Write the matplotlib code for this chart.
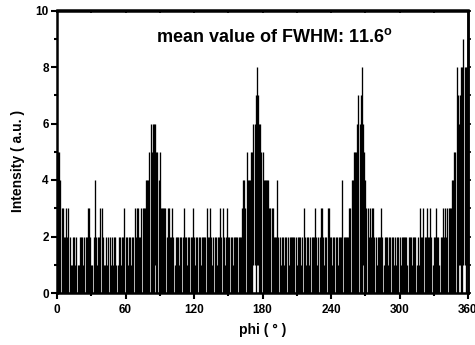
import matplotlib
matplotlib.use("Agg")
import matplotlib.pyplot as plt
import numpy as np

# Phi scan, 1 degree per sample: highest count recorded in each degree bin
counts_000_059 = [5, 5, 5, 4, 3, 3, 2, 2, 3, 2,
                  3, 2, 1, 1, 2, 2, 1, 2, 1, 1,
                  2, 2, 2, 1, 2, 2, 2, 3, 3, 2,
                  1, 1, 2, 4, 2, 1, 2, 2, 3, 3,
                  2, 1, 1, 2, 1, 2, 2, 1, 2, 1,
                  2, 2, 1, 1, 2, 2, 1, 2, 2, 3]
counts_060_119 = [2, 2, 1, 2, 2, 1, 2, 2, 3, 2,
                  3, 3, 2, 2, 3, 3, 3, 3, 4, 4,
                  4, 5, 6, 5, 6, 6, 6, 5, 5, 4,
                  5, 3, 3, 3, 3, 3, 2, 3, 3, 2,
                  2, 3, 2, 1, 2, 2, 2, 1, 2, 2,
                  2, 3, 2, 2, 1, 2, 2, 2, 2, 3]
counts_120_179 = [2, 1, 2, 2, 2, 2, 1, 2, 2, 2,
                  2, 3, 2, 2, 3, 2, 1, 2, 2, 2,
                  1, 2, 2, 3, 2, 3, 2, 1, 2, 3,
                  2, 2, 2, 2, 1, 2, 2, 2, 2, 2,
                  2, 2, 3, 4, 4, 3, 5, 4, 4, 4,
                  5, 5, 6, 6, 7, 8, 7, 6, 6, 5]
counts_180_239 = [5, 4, 4, 4, 4, 4, 3, 3, 3, 3,
                  2, 2, 2, 4, 2, 2, 1, 2, 2, 1,
                  2, 2, 2, 1, 2, 2, 2, 2, 2, 2,
                  1, 2, 2, 2, 1, 2, 3, 2, 1, 2,
                  2, 1, 2, 2, 2, 2, 3, 2, 1, 2,
                  2, 3, 3, 2, 1, 2, 2, 3, 3, 2]
counts_240_299 = [2, 1, 2, 2, 2, 2, 1, 2, 2, 2,
                  4, 2, 2, 2, 2, 2, 3, 3, 4, 4,
                  5, 5, 5, 6, 7, 6, 7, 8, 6, 5,
                  4, 3, 3, 2, 3, 2, 3, 3, 2, 2,
                  1, 2, 2, 2, 3, 2, 1, 2, 2, 2,
                  1, 2, 2, 2, 2, 1, 2, 1, 2, 2]
counts_300_360 = [2, 1, 2, 2, 2, 2, 2, 1, 2, 2,
                  2, 1, 2, 2, 2, 1, 2, 1, 3, 2,
                  2, 3, 2, 2, 3, 2, 2, 3, 2, 1,
                  2, 2, 3, 2, 2, 1, 2, 2, 3, 2,
                  3, 2, 3, 3, 3, 3, 4, 4, 5, 5,
                  8, 7, 6, 7, 8, 8, 9, 8, 8, 8,
                  9]

# Bins where the count never drops below 1 (peak centres)
floor_one_deg = [86, 172, 173, 175, 176, 268, 352, 353, 356, 357, 359, 360]

x_ticks = [0, 60, 120, 180, 240, 300, 360]
y_ticks = [0, 2, 4, 6, 8, 10]
title_text = "mean value of FWHM: 11.6$^\\mathrm{o}$"
x_label = "phi ( \u00b0 )"
y_label = "Intensity ( a.u. )"

plt.rcParams["font.family"] = ["Liberation Sans", "DejaVu Sans"]
plt.rcParams["font.weight"] = "bold"
plt.rcParams["mathtext.fontset"] = "custom"
plt.rcParams["mathtext.rm"] = "Liberation Sans:bold"
plt.rcParams["mathtext.it"] = "Liberation Sans:bold"
plt.rcParams["mathtext.bf"] = "Liberation Sans:bold"

counts_hi = np.array(counts_000_059 + counts_060_119 + counts_120_179
                     + counts_180_239 + counts_240_299 + counts_300_360)
phi = np.arange(len(counts_hi))
counts_lo = np.where(np.isin(phi, floor_one_deg), 1, 0)

fig = plt.figure(figsize=(4.75, 3.45), dpi=100)
ax = fig.add_axes([57 / 475, 52 / 345, 411 / 475, 282.5 / 345])

ax.vlines(phi, counts_lo, counts_hi, colors="black", linewidth=0.95)

ax.set_xlim(0, 360)
ax.set_ylim(0, 10)
ax.set_xticks(x_ticks)
ax.set_xticks(np.arange(30, 360, 60), minor=True)
ax.set_yticks(y_ticks)
ax.set_yticks(np.arange(1, 10, 2), minor=True)

for s in ax.spines.values():
    s.set_linewidth(1.8)

ax.tick_params(which="major", direction="out", length=4, width=1.5,
               labelsize=8.5, pad=2)
ax.tick_params(axis="x", which="major", pad=4)
ax.tick_params(which="minor", direction="out", length=2.5, width=1.5)
for lab in ax.get_xticklabels() + ax.get_yticklabels():
    lab.set_fontweight("bold")

top = ax.secondary_xaxis("top")
top.set_xticks(np.arange(0, 361, 30))
top.tick_params(direction="in", length=2, width=1.2, labeltop=False)
top.spines["top"].set_linewidth(1.8)
right = ax.secondary_yaxis("right")
right.set_yticks(np.arange(0, 11, 1))
right.tick_params(direction="out", length=2, width=1.2, labelright=False)
right.spines["right"].set_linewidth(1.8)

ax.set_xlabel(x_label, fontsize=10, fontweight="bold")
ax.xaxis.set_label_coords(0.5, -0.106)
ax.set_ylabel(y_label, fontsize=10, fontweight="bold")
ax.yaxis.set_label_coords(-0.077, 0.467)

ax.text(87, 8.88, title_text, fontsize=13, fontweight="bold",
        ha="left", va="baseline")

fig.savefig("out.png", dpi=100)
